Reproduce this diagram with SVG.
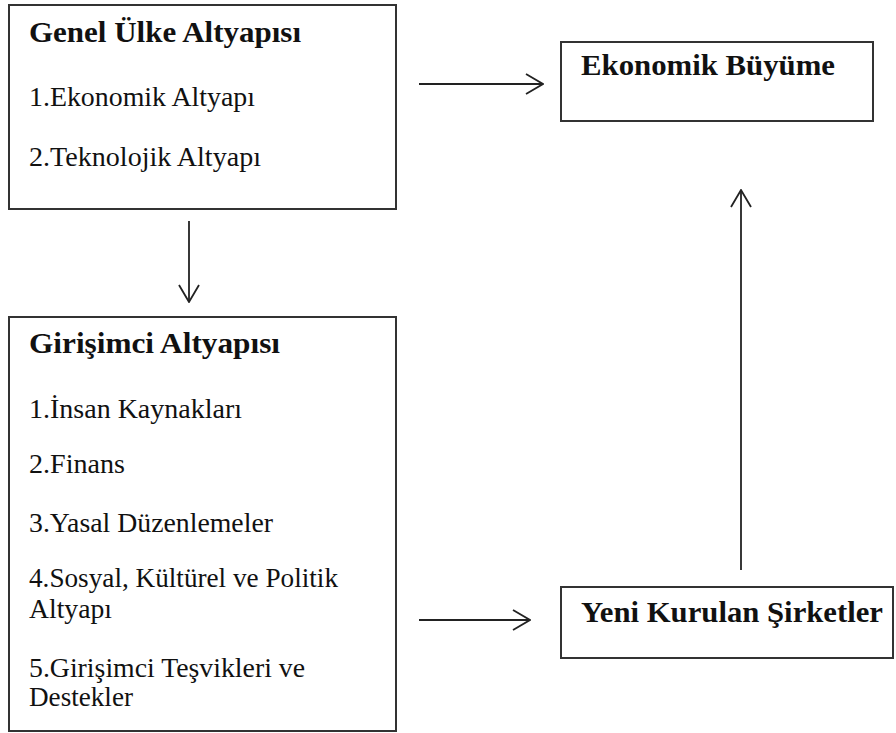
<svg xmlns="http://www.w3.org/2000/svg" width="896" height="733" viewBox="0 0 896 733">
<style>
.box{fill:#fff;stroke:#333;stroke-width:2}
.t{font-family:"Liberation Serif","Times New Roman",serif;fill:#111}
.h{font-size:29px;font-weight:bold}
.i{font-size:26.5px}
.c{stroke:#222;stroke-width:1.8;fill:none}
</style>
<defs>
<marker id="ah" viewBox="0 0 20 24" refX="19" refY="12" markerWidth="20" markerHeight="24" markerUnits="userSpaceOnUse" orient="auto">
<path d="M2,2 L19,12 L2,22" fill="none" stroke="#222" stroke-width="1.8"/>
</marker>
</defs>
<rect width="896" height="733" fill="#fff"/>
<g id="genel">
<rect class="box" x="9" y="5" width="387" height="204"/>
<text class="t h" x="29" y="42" textLength="272" lengthAdjust="spacingAndGlyphs">Genel Ülke Altyapısı</text>
<text class="t i" x="29" y="106" textLength="226" lengthAdjust="spacingAndGlyphs">1.Ekonomik Altyapı</text>
<text class="t i" x="29" y="166" textLength="232" lengthAdjust="spacingAndGlyphs">2.Teknolojik Altyapı</text>
</g>
<g id="buyume">
<rect class="box" x="561" y="42" width="312" height="79"/>
<text class="t h" x="581" y="75" textLength="254" lengthAdjust="spacingAndGlyphs">Ekonomik Büyüme</text>
</g>
<g id="girisimci">
<rect class="box" x="9" y="317" width="387" height="414"/>
<text class="t h" x="29" y="353" textLength="251" lengthAdjust="spacingAndGlyphs">Girişimci Altyapısı</text>
<text class="t i" x="29" y="418" textLength="213" lengthAdjust="spacingAndGlyphs">1.İnsan Kaynakları</text>
<text class="t i" x="29" y="473" textLength="96" lengthAdjust="spacingAndGlyphs">2.Finans</text>
<text class="t i" x="29" y="532" textLength="244" lengthAdjust="spacingAndGlyphs">3.Yasal Düzenlemeler</text>
<text class="t i" x="29" y="587" textLength="309" lengthAdjust="spacingAndGlyphs">4.Sosyal, Kültürel  ve Politik</text>
<text class="t i" x="29" y="618" textLength="83" lengthAdjust="spacingAndGlyphs">Altyapı</text>
<text class="t i" x="29" y="677" textLength="276" lengthAdjust="spacingAndGlyphs">5.Girişimci  Teşvikleri  ve</text>
<text class="t i" x="29" y="706" textLength="104" lengthAdjust="spacingAndGlyphs">Destekler</text>
</g>
<g id="yeni">
<rect class="box" x="561" y="587" width="332" height="71"/>
<text class="t h" x="581" y="622" textLength="302" lengthAdjust="spacingAndGlyphs">Yeni Kurulan Şirketler</text>
</g>
<g id="connectors">
<line class="c" x1="419" y1="84" x2="543" y2="84" marker-end="url(#ah)"/>
<line class="c" x1="189" y1="221" x2="189" y2="302" marker-end="url(#ah)"/>
<line class="c" x1="419" y1="620" x2="530" y2="620" marker-end="url(#ah)"/>
<line class="c" x1="741" y1="570" x2="741" y2="190" marker-end="url(#ah)"/>
</g>
</svg>
